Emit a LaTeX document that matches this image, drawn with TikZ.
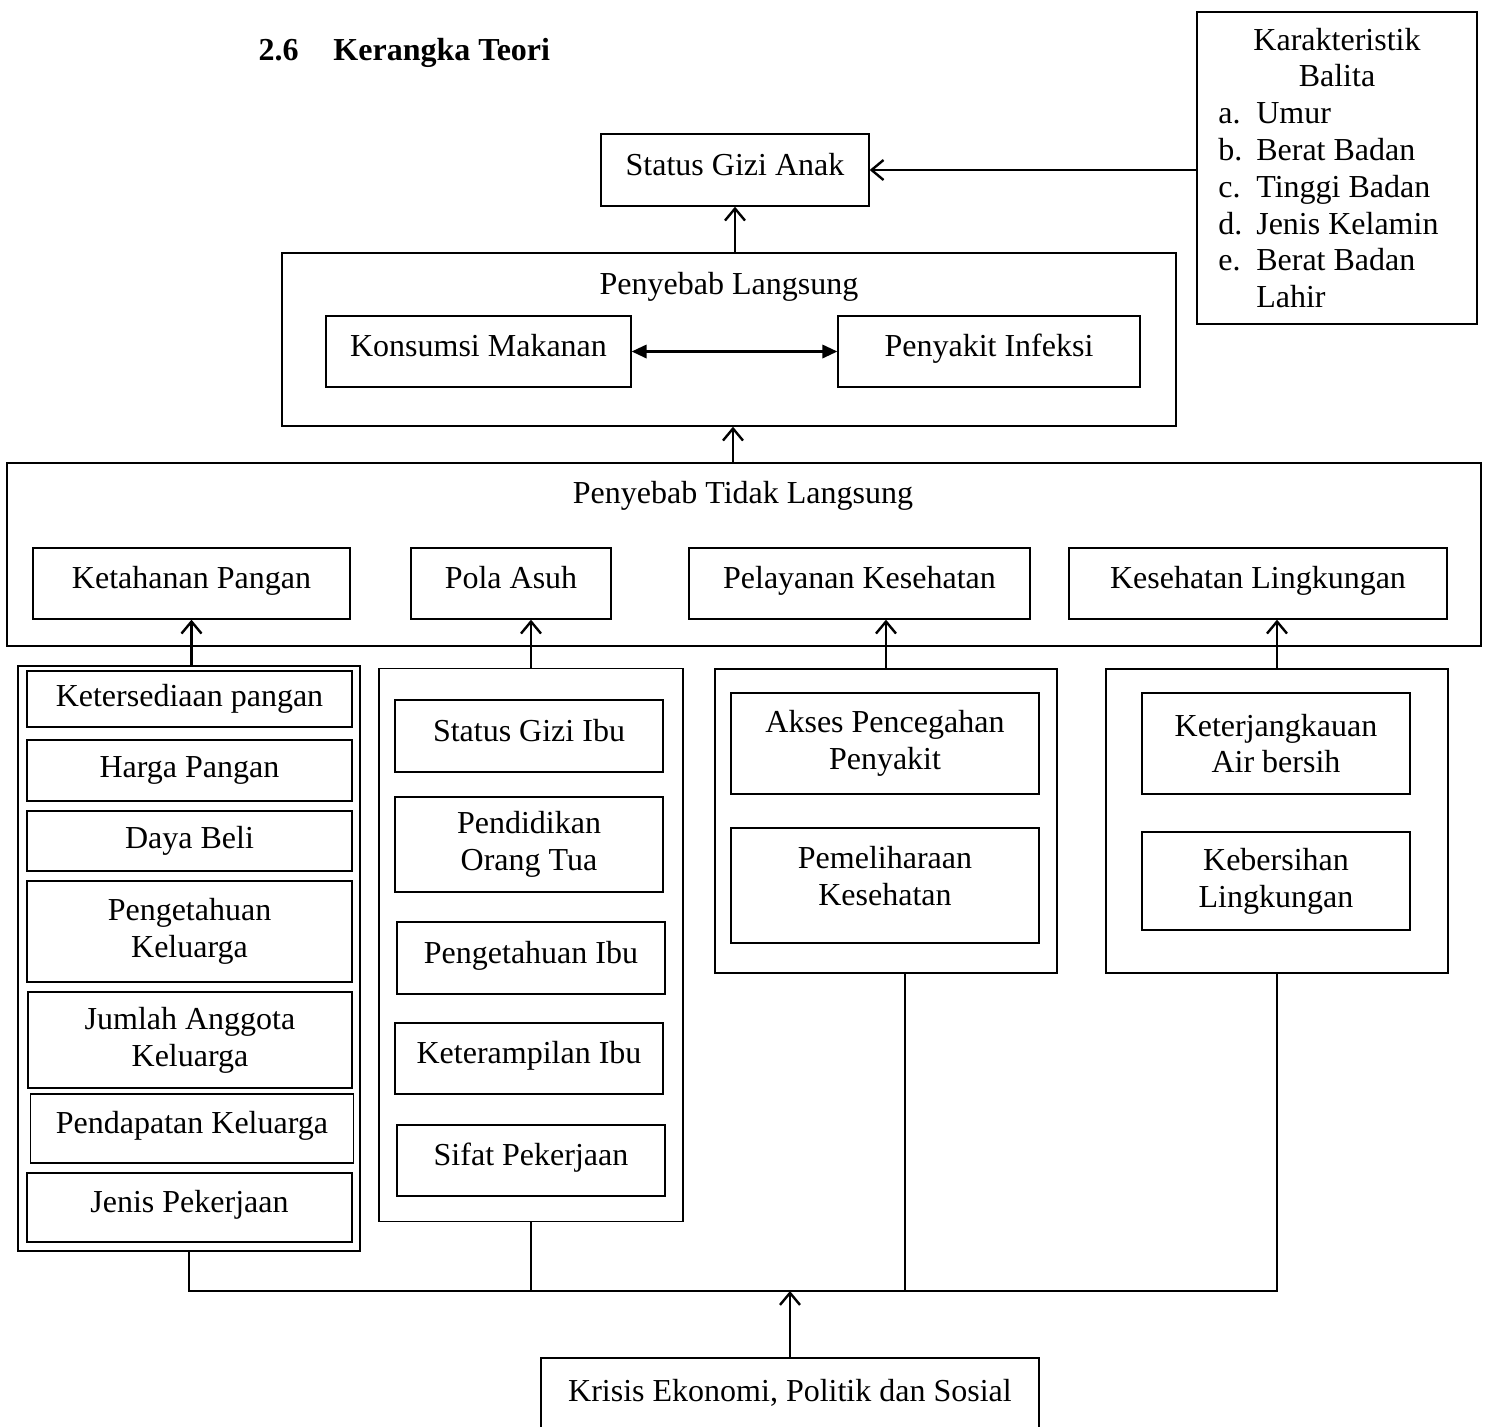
\documentclass[tikz,border=0pt]{standalone}
\usepackage{fontspec}
\setmainfont{Liberation Serif}
\usetikzlibrary{arrows.meta}

\tikzset{
  box/.style={draw, line width=0.5pt, inner sep=0pt, align=center, font=\fontsize{12}{13.8}\selectfont},
  one/.style={text height=9pt, text depth=5pt},
  wd/.style={minimum width=#1*0.375pt},
  ht/.style={minimum height=#1*0.375pt},
  lbl/.style={font=\fontsize{12}{13.8}\selectfont},
  arr/.style={line width=0.9pt, -{Straight Barb[length=4.5pt,width=7.5pt]}},
  link/.style={line width=0.7pt}
}
\newcommand{\balitaitem}[2]{\makebox[89pt][l]{\makebox[14.25pt][l]{#1}#2}}

\begin{document}
\begin{tikzpicture}[x=0.375pt, y=-0.375pt]
\useasboundingbox (0,0) rectangle (1488,1427);

% judul
\node (judul) [anchor=base west, inner sep=0pt, font=\fontsize{12}{13.8}\selectfont\bfseries] at (258,60) {2.6\hspace{13.1pt}Kerangka Teori};

% status gizi dan karakteristik balita
\node (gizi) [box, one, wd=268, ht=72] at (735,170) {Status Gizi Anak};
\node (balita) [box, wd=280, ht=312] at (1337,168) {Karakteristik\\Balita\\\balitaitem{a.}{Umur}\\\balitaitem{b.}{Berat Badan}\\\balitaitem{c.}{Tinggi Badan}\\\balitaitem{d.}{Jenis Kelamin}\\\balitaitem{e.}{Berat Badan}\\\balitaitem{}{Lahir}};

% penyebab langsung
\node (langsung) [box, wd=894, ht=173] at (729,339.5) {};
\node (langsungjudul) [lbl] at (729,287) {Penyebab Langsung};
\node (konsumsi) [box, one, wd=305, ht=71] at (478.5,351.5) {Konsumsi Makanan};
\node (infeksi) [box, one, wd=302, ht=71] at (989,351.5) {Penyakit Infeksi};

% penyebab tidak langsung
\node (tidak) [box, wd=1474, ht=183] at (744,554.5) {};
\node (tidakjudul) [lbl] at (743,496) {Penyebab Tidak Langsung};
\node (pangan) [box, one, wd=317, ht=71] at (191.5,583.5) {Ketahanan Pangan};
\node (asuh) [box, one, wd=200, ht=71] at (511,583.5) {Pola Asuh};
\node (layanan) [box, one, wd=341, ht=71] at (859.5,583.5) {Pelayanan Kesehatan};
\node (lingk) [box, one, wd=378, ht=71] at (1258,583.5) {Kesehatan Lingkungan};

% faktor ketahanan pangan
\node (g1) [box, wd=342, ht=585] at (189,958.5) {};
\node (k1) [box, wd=325, ht=56] at (189.5,699) {Ketersediaan pangan};
\node (k2) [box, wd=325, ht=61] at (189.5,770.5) {Harga Pangan};
\node (k3) [box, wd=325, ht=60] at (189.5,841) {Daya Beli};
\node (k4) [box, wd=325, ht=101] at (189.5,931.5) {Pengetahuan\\Keluarga};
\node (k5) [box, wd=324, ht=96] at (190,1040) {Jumlah Anggota\\Keluarga};
\node (k6) [box, one, wd=323, ht=69] at (192,1128.5) {Pendapatan Keluarga};
\node (k7) [box, one, wd=325, ht=69] at (189.5,1207.5) {Jenis Pekerjaan};

% faktor pola asuh
\node (g2) [box, wd=304, ht=553] at (531,945) {};
\node (a1) [box, one, wd=268, ht=72] at (529,736) {Status Gizi Ibu};
\node (a2) [box, wd=268, ht=95] at (529,844.5) {Pendidikan\\Orang Tua};
\node (a3) [box, one, wd=268, ht=72] at (531,958) {Pengetahuan Ibu};
\node (a4) [box, one, wd=268, ht=71] at (529,1058.5) {Keterampilan Ibu};
\node (a5) [box, one, wd=268, ht=71] at (531,1160.5) {Sifat Pekerjaan};

% faktor pelayanan kesehatan
\node (g3) [box, wd=342, ht=304] at (886,821) {};
\node (p1) [box, wd=308, ht=101] at (885,743.5) {Akses Pencegahan\\Penyakit};
\node (p2) [box, text depth=7.5pt, wd=308, ht=115] at (885,885.5) {Pemeliharaan\\Kesehatan};

% faktor kesehatan lingkungan
\node (g4) [box, wd=342, ht=304] at (1277,821) {};
\node (l1) [box, wd=268, ht=101] at (1276,743.5) {Keterjangkauan\\Air bersih};
\node (l2) [box, wd=268, ht=98] at (1276,881) {Kebersihan\\Lingkungan};

% krisis
\node (krisis) [box, one, wd=498, ht=76] at (790,1396) {Krisis Ekonomi, Politik dan Sosial};
\coordinate (bus) at (790,1291);

% panah
\draw[arr] (langsung.north -| gizi.south) -- (gizi.south);
\draw[arr] (balita.west |- gizi.east) -- (gizi.east);
\draw[line width=0.9pt, {Triangle[length=5.6pt,width=5pt]}-{Triangle[length=5.6pt,width=5pt]}] (konsumsi) -- (infeksi);
\draw[arr] ([xshift=1.5pt]tidak.north -| langsung.south) -- ([xshift=1.5pt]langsung.south);
\draw[arr] (g1.north -| pangan.south) -- (pangan.south);
\draw[arr] (g2.north) -- (g2.north |- asuh.south);
\draw[arr] (g3.north) -- (g3.north |- layanan.south);
\draw[arr] (g4.north) -- (g4.north |- lingk.south);

\draw[link] (g1.south) |- (g4.south |- bus) -- (g4.south);
\draw[link] (g2.south) -- (g2.south |- bus);
\draw[link] ([xshift=7.1pt]g3.south) -- ([xshift=7.1pt]g3.south |- bus);
\draw[arr] (krisis.north) -- (bus);

\end{tikzpicture}
\end{document}
